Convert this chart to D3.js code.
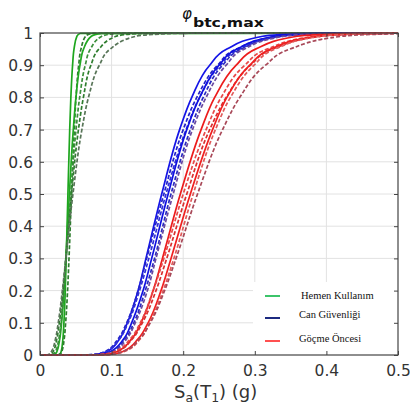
<!DOCTYPE html>
<html>
<head>
<meta charset="utf-8">
<script src="https://cdn.jsdelivr.net/npm/d3@7"></script>
<style>
  body { margin: 0; background: #fff; }
</style>
</head>
<body>
<div id="chart"></div>
<script>
// probability levels shared by every curve
const probLevels = [0, 0.001, 0.01, 0.05, 0.1, 0.2, 0.3, 0.5, 0.7, 0.8, 0.9, 0.95, 0.99, 0.999, 1];

// Sa values (g) read at each probability level, one row per curve
const greenCurves = [
  [0, 0.0269, 0.0295, 0.0320, 0.0334, 0.0353, 0.0366, 0.0390, 0.0415, 0.0431, 0.0455, 0.0475, 0.0516, 0.0565, 0.55],
  [0, 0.0268, 0.0303, 0.0338, 0.0358, 0.0385, 0.0405, 0.0440, 0.0479, 0.0503, 0.0540, 0.0572, 0.0638, 0.0721, 0.55],
  [0, 0.0195, 0.0235, 0.0276, 0.0301, 0.0335, 0.0361, 0.0410, 0.0465, 0.0502, 0.0558, 0.0608, 0.0717, 0.0861, 0.55],
  [0, 0.0170, 0.0214, 0.0263, 0.0293, 0.0334, 0.0367, 0.0430, 0.0503, 0.0554, 0.0632, 0.0704, 0.0864, 0.1087, 0.55],
  [0, 0.0136, 0.0182, 0.0235, 0.0270, 0.0320, 0.0360, 0.0440, 0.0537, 0.0606, 0.0711, 0.0822, 0.1065, 0.1423, 0.55],
  [0, 0.0111, 0.0158, 0.0216, 0.0255, 0.0312, 0.0361, 0.0460, 0.0585, 0.0677, 0.0829, 0.0980, 0.1341, 0.1906, 0.55]
];
const blueCurves = [
  [0, 0.076, 0.093, 0.111, 0.122, 0.137, 0.148, 0.170, 0.195, 0.212, 0.237, 0.261, 0.311, 0.380, 0.55],
  [0, 0.073, 0.090, 0.109, 0.121, 0.137, 0.149, 0.173, 0.200, 0.219, 0.248, 0.274, 0.332, 0.411, 0.55],
  [0, 0.074, 0.092, 0.111, 0.123, 0.139, 0.152, 0.176, 0.204, 0.223, 0.252, 0.279, 0.338, 0.418, 0.55],
  [0, 0.080, 0.098, 0.117, 0.128, 0.144, 0.156, 0.179, 0.205, 0.223, 0.250, 0.275, 0.328, 0.400, 0.55],
  [0, 0.082, 0.100, 0.119, 0.131, 0.147, 0.160, 0.183, 0.210, 0.228, 0.255, 0.281, 0.335, 0.409, 0.55],
  [0, 0.083, 0.102, 0.121, 0.133, 0.150, 0.162, 0.186, 0.213, 0.232, 0.260, 0.285, 0.341, 0.415, 0.55]
];
const redCurves = [
  [0, 0.088, 0.107, 0.128, 0.141, 0.158, 0.171, 0.196, 0.225, 0.244, 0.274, 0.301, 0.359, 0.438, 0.55],
  [0, 0.084, 0.104, 0.126, 0.140, 0.158, 0.173, 0.200, 0.232, 0.253, 0.286, 0.317, 0.384, 0.475, 0.55],
  [0, 0.086, 0.107, 0.129, 0.143, 0.162, 0.177, 0.205, 0.237, 0.260, 0.294, 0.325, 0.393, 0.487, 0.55],
  [0, 0.094, 0.115, 0.137, 0.151, 0.169, 0.183, 0.210, 0.241, 0.261, 0.293, 0.322, 0.385, 0.469, 0.55],
  [0, 0.096, 0.117, 0.140, 0.153, 0.172, 0.187, 0.214, 0.245, 0.266, 0.299, 0.328, 0.392, 0.478, 0.55],
  [0, 0.093, 0.115, 0.139, 0.154, 0.174, 0.190, 0.220, 0.255, 0.279, 0.315, 0.349, 0.422, 0.523, 0.6]
];

const xTicks = [0, 0.1, 0.2, 0.3, 0.4, 0.5];
const yTicks = [0, 0.1, 0.2, 0.3, 0.4, 0.5, 0.6, 0.7, 0.8, 0.9, 1];
const legendLabels = ["Hemen Kullanım", "Can Güvenliği", "Göçme Öncesi"];

const width = 410;
const height = 407;
const plot = { left: 40, right: 398, top: 33, bottom: 355 };

const svg = d3.select("#chart")
  .append("svg")
  .attr("width", width)
  .attr("height", height);

const x = d3.scaleLinear().domain([0, 0.5]).range([plot.left, plot.right]);
const y = d3.scaleLinear().domain([0, 1]).range([plot.bottom, plot.top]);

// grid
svg.append("g")
  .selectAll("line")
  .data(xTicks.slice(1, -1))
  .join("line")
  .attr("x1", d => x(d)).attr("x2", d => x(d))
  .attr("y1", plot.top).attr("y2", plot.bottom)
  .attr("stroke", "#e2e2e2");
svg.append("g")
  .selectAll("line")
  .data(yTicks.slice(1, -1))
  .join("line")
  .attr("x1", plot.left).attr("x2", plot.right)
  .attr("y1", d => y(d)).attr("y2", d => y(d))
  .attr("stroke", "#e2e2e2");

// clip so curves stop at the right edge
svg.append("clipPath").attr("id", "clip")
  .append("rect")
  .attr("x", plot.left).attr("y", plot.top - 3)
  .attr("width", plot.right - plot.left).attr("height", plot.bottom - plot.top + 6);

const line = d3.line()
  .x(d => x(d[0]))
  .y(d => y(d[1]))
  .curve(d3.curveMonotoneY);

// line looks for each group
const groups = [
  { curves: greenCurves,
    colors: ["#1ea61e", "#2f7d2f", "#22a822", "#3c8f3c", "#2f7d2f", "#587558"],
    dashes: [null, "4 2", null, "4 2", "4 2", "4 2"] },
  { curves: blueCurves,
    colors: ["#1414e6", "#2222c8", "#3030d8", "#1010e0", "#2a2ac0", "#6a4aa0"],
    dashes: [null, "4 2", "4 2", null, "4 2", "4 2"] },
  { curves: redCurves,
    colors: ["#ec1c1c", "#e84848", "#d83030", "#f02020", "#e05a5a", "#a84858"],
    dashes: [null, "4 2", "4 2", null, "4 2", "4 2"] }
];

const curveLayer = svg.append("g").attr("clip-path", "url(#clip)");
groups.forEach(g => {
  curveLayer.append("g")
    .selectAll("path")
    .data(g.curves)
    .join("path")
    .attr("d", c => line(c.map((v, i) => [v, probLevels[i]])))
    .attr("fill", "none")
    .attr("stroke", (c, i) => g.colors[i])
    .attr("stroke-width", 1.7)
    .attr("stroke-dasharray", (c, i) => g.dashes[i]);
});

// legend box (sits over grid, under frame)
const legend = svg.append("g");
legend.append("rect")
  .attr("x", 253).attr("y", 282)
  .attr("width", plot.right - 253).attr("height", plot.bottom - 282)
  .attr("fill", "#fff");
const legendColors = ["#3cc46a", "#1c2a80", "#ff5050"];
legendLabels.forEach((lab, i) => {
  const ly = [296, 318, 341][i];
  legend.append("line")
    .attr("x1", 265).attr("x2", 280)
    .attr("y1", ly).attr("y2", ly)
    .attr("stroke", legendColors[i])
    .attr("stroke-width", 2);
  legend.append("text")
    .attr("x", i === 0 ? 301 : 299)
    .attr("y", [299, 318, 342][i])
    .attr("font-family", "'Liberation Serif', 'Times New Roman', serif")
    .attr("font-size", "10.5px")
    .attr("fill", "#111")
    .text(lab);
});

// axes
const fmt = d3.format("~g");
const axisFont = "'DejaVu Sans', sans-serif";

const xAxis = svg.append("g")
  .attr("transform", `translate(0,${plot.bottom})`)
  .call(d3.axisBottom(x).tickValues(xTicks).tickSize(-4).tickPadding(10).tickFormat(fmt));
const yAxis = svg.append("g")
  .attr("transform", `translate(${plot.left},0)`)
  .call(d3.axisLeft(y).tickValues(yTicks).tickSize(-4).tickPadding(7).tickFormat(fmt));
const topAxis = svg.append("g")
  .attr("transform", `translate(0,${plot.top})`)
  .call(d3.axisTop(x).tickValues(xTicks).tickSize(-4).tickFormat(""));
const rightAxis = svg.append("g")
  .attr("transform", `translate(${plot.right},0)`)
  .call(d3.axisRight(y).tickValues(yTicks).tickSize(-4).tickFormat(""));

[xAxis, yAxis, topAxis, rightAxis].forEach(a => {
  a.select(".domain").remove();
  a.selectAll(".tick line").attr("stroke", "#444");
  a.selectAll("text")
    .attr("font-family", axisFont)
    .attr("font-size", "15.5px")
    .attr("fill", "#333");
});
yAxis.selectAll("text").attr("dy", "0.36em");

// frame
svg.append("rect")
  .attr("x", plot.left).attr("y", plot.top)
  .attr("width", plot.right - plot.left).attr("height", plot.bottom - plot.top)
  .attr("fill", "none")
  .attr("stroke", "#444")
  .attr("stroke-width", 1.2);

// title
const title = svg.append("text")
  .attr("x", 182).attr("y", 19)
  .attr("font-family", axisFont)
  .attr("fill", "#111");
title.append("tspan")
  .attr("font-style", "italic")
  .attr("font-size", "15px")
  .text("φ");
title.append("tspan")
  .attr("dx", 1).attr("dy", 8)
  .attr("font-weight", "bold")
  .attr("font-size", "13px")
  .attr("textLength", 71)
  .attr("lengthAdjust", "spacingAndGlyphs")
  .text("btc,max");

// x label
const xLabel = svg.append("text")
  .attr("x", 174).attr("y", 398)
  .attr("font-family", axisFont)
  .attr("font-size", "18px")
  .attr("fill", "#333");
xLabel.append("tspan").text("S");
xLabel.append("tspan").attr("font-size", "12.5px").attr("dy", 4).text("a");
xLabel.append("tspan").attr("dy", -4).text("(T");
xLabel.append("tspan").attr("font-size", "12.5px").attr("dy", 4).text("1");
xLabel.append("tspan").attr("dy", -4).text(") (g)");
</script>
</body>
</html>
